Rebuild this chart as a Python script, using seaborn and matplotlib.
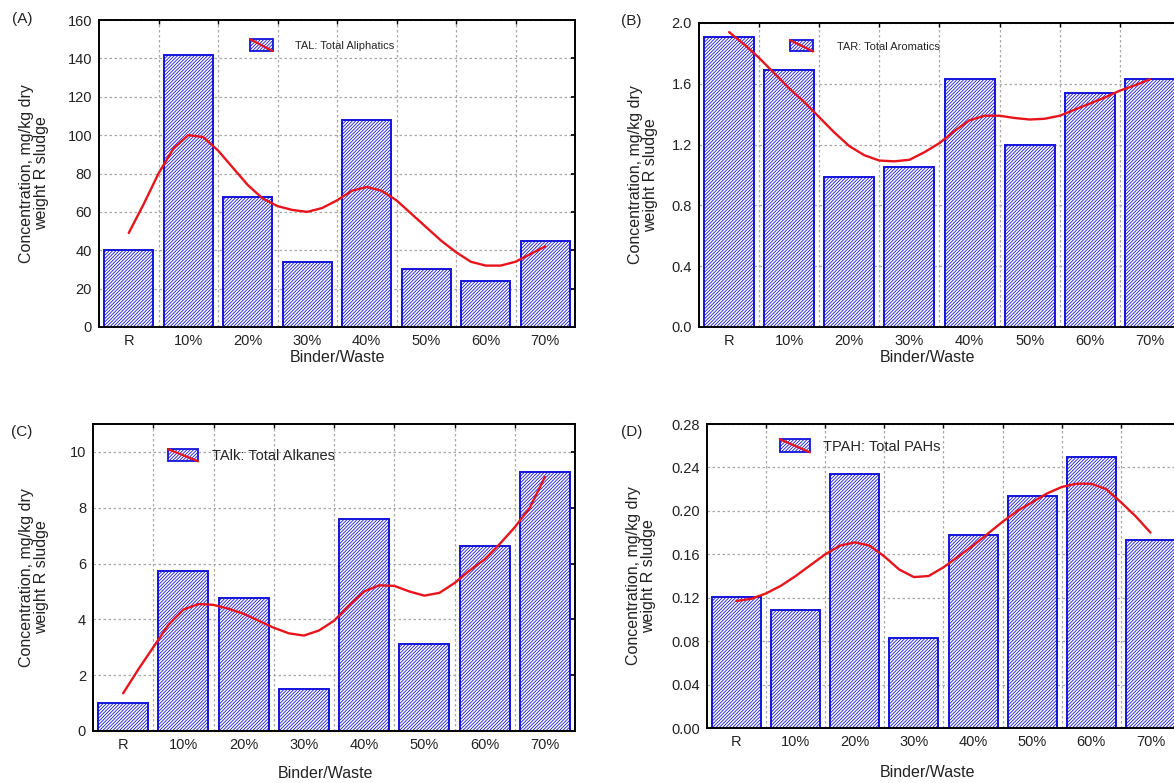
import numpy as np
import pandas as pd
import seaborn as sns
import matplotlib.pyplot as plt
from matplotlib.patches import Rectangle
from matplotlib.lines import Line2D
from matplotlib.legend_handler import HandlerBase
from matplotlib.ticker import FixedLocator, FormatStrFormatter

# categorias (razao ligante/residuo)
labels = ['R', '10%', '20%', '30%', '40%', '50%', '60%', '70%']

# alturas das barras
tal = [40, 142, 68, 34, 108, 30, 24, 45]
tar = [1.91, 1.69, 0.99, 1.05, 1.63, 1.20, 1.54, 1.63]
talk = [1.02, 5.72, 4.75, 1.52, 7.60, 3.11, 6.62, 9.27]
tpah = [0.121, 0.109, 0.234, 0.083, 0.178, 0.214, 0.250, 0.173]

# curva suavizada lida a cada 1/4 de categoria
curve_pos = np.linspace(0, 7, 29)
tal_curve = [49, 64, 80, 93, 100, 99, 92, 83, 74, 67, 63, 61, 60, 62, 66, 71,
             73, 71, 66, 59, 52, 45, 39, 34, 32, 32, 34, 38, 42]
tar_curve = [1.94, 1.86, 1.77, 1.67, 1.57, 1.48, 1.38, 1.28, 1.19, 1.13, 1.095,
             1.09, 1.10, 1.15, 1.21, 1.29, 1.36, 1.39, 1.39, 1.375, 1.365, 1.37,
             1.39, 1.43, 1.47, 1.51, 1.555, 1.59, 1.63]
talk_curve = [1.35, 2.2, 3.0, 3.8, 4.35, 4.55, 4.52, 4.38, 4.2, 3.95, 3.7, 3.5,
              3.42, 3.6, 3.95, 4.5, 5.0, 5.22, 5.2, 5.0, 4.85, 4.95, 5.3, 5.75,
              6.15, 6.7, 7.3, 8.0, 9.1]
tpah_curve = [0.117, 0.119, 0.124, 0.131, 0.140, 0.150, 0.160, 0.168, 0.171,
              0.168, 0.158, 0.146, 0.139, 0.140, 0.148, 0.158, 0.168, 0.179,
              0.190, 0.200, 0.208, 0.216, 0.222, 0.225, 0.225, 0.220, 0.208,
              0.195, 0.180]

BLUE = '#1414dc'
RED = '#e8141c'
HATCH = '/' * 10
W, H = 1174, 783

sns.set_theme(style='white')
plt.rcParams['font.family'] = ['Liberation Sans', 'DejaVu Sans']
plt.rcParams['hatch.linewidth'] = 0.6


class BarLineHandler(HandlerBase):
    def create_artists(self, legend, orig_handle, xdescent, ydescent,
                       width, height, fontsize, trans):
        rect = Rectangle((-xdescent, -ydescent), width, height, facecolor='white',
                         edgecolor=BLUE, hatch=HATCH, lw=1.3, transform=trans)
        line = Line2D([-xdescent, -xdescent + width], [-ydescent + height, -ydescent],
                      color=RED, lw=1.6, transform=trans)
        return [rect, line]


fig = plt.figure(figsize=(W / 100, H / 100), dpi=100)


def box(l, r, t, b):
    return [l / W, 1 - b / H, (r - l) / W, (b - t) / H]


panels = [
    dict(box=box(99, 575, 20, 327), vals=tal, curve=tal_curve, top=160,
         yt=np.arange(0, 161, 20), fmt='%d', letter='(A)', lp=(22, 19),
         name='TAL: Total Aliphatics', lfs=8, leg=(0.318, 0.918), hl=2.0, hh=1.25, tp=2.0,
         ylc=-0.137, xlc=(0.502, -0.098)),
    dict(box=box(699, 1180, 23, 327), vals=tar, curve=tar_curve, top=2.0,
         yt=np.arange(0, 2.01, 0.4), fmt='%.1f', letter='(B)', lp=(631, 21),
         name='TAR: Total Aromatics', lfs=8, leg=(0.189, 0.925), hl=2.1, hh=1.2, tp=2.1,
         ylc=-0.116, xlc=(0.476, -0.099)),
    dict(box=box(93, 575, 424, 731), vals=talk, curve=talk_curve, top=11,
         yt=np.arange(0, 11, 2), fmt='%d', letter='(C)', lp=(22, 432),
         name='TAlk: Total Alkanes', lfs=10.5, leg=(0.156, 0.895), hl=2.05, hh=0.9, tp=0.95,
         ylc=-0.122, xlc=(0.483, -0.137)),
    dict(box=box(707, 1180, 424, 728), vals=tpah, curve=tpah_curve, top=0.28,
         yt=np.arange(0, 0.281, 0.04), fmt='%.2f', letter='(D)', lp=(632, 432),
         name='TPAH: Total PAHs', lfs=10.5, leg=(0.154, 0.926), hl=2.05, hh=1.0, tp=0.9,
         ylc=-0.14, xlc=(0.467, -0.148)),
]

for p in panels:
    ax = fig.add_axes(p['box'])
    df = pd.DataFrame({'cat': labels, 'val': p['vals']})
    sns.barplot(data=df, x='cat', y='val', ax=ax, color='white', saturation=1,
                edgecolor=BLUE, linewidth=1.4, hatch=HATCH, width=0.83, zorder=2)
    cdf = pd.DataFrame({'x': curve_pos, 'y': p['curve']})
    sns.lineplot(data=cdf, x='x', y='y', ax=ax, color=RED, lw=1.7, zorder=3)

    ax.set_xlim(-0.5, 7.5)
    ax.set_ylim(0, p['top'])
    ax.set_yticks(p['yt'])
    ax.yaxis.set_major_formatter(FormatStrFormatter(p['fmt']))
    ax.xaxis.set_minor_locator(FixedLocator(np.arange(0.5, 7, 1)))
    ax.grid(True, axis='y', which='major', color='#a8a8a8', ls=(0, (2, 2)), lw=0.9, zorder=0)
    ax.grid(True, axis='x', which='minor', color='#a8a8a8', ls=(0, (2, 2)), lw=0.9, zorder=0)
    ax.set_axisbelow(True)
    ax.tick_params(axis='x', which='major', length=0, pad=5, labelsize=10.5, labelcolor='#222222')
    ax.tick_params(axis='x', which='minor', length=3, direction='in', top=True, color='black')
    ax.tick_params(axis='y', which='major', length=3, direction='in', right=True,
                   pad=5, labelsize=10.5, labelcolor='#222222', color='black')
    for s in ax.spines.values():
        s.set_color('black')
        s.set_linewidth(1.4)

    ax.set_xlabel('Binder/Waste', fontsize=11.5, color='#222222')
    ax.xaxis.set_label_coords(*p['xlc'])
    ax.xaxis.label.set_verticalalignment('center')
    ax.set_ylabel('Concentration, mg/kg dry\nweight R sludge', fontsize=11.5,
                  color='#222222', linespacing=1.0)
    ax.yaxis.set_label_coords(p['ylc'], 0.5)
    ax.yaxis.label.set_verticalalignment('center')

    h = Rectangle((0, 0), 1, 1)
    ax.legend([h], [p['name']], handler_map={h: BarLineHandler()},
              loc='center left', bbox_to_anchor=p['leg'], frameon=False,
              fontsize=p['lfs'], handlelength=p['hl'], handleheight=p['hh'],
              handletextpad=p['tp'], borderpad=0, borderaxespad=0)

    fig.text(p['lp'][0] / W, 1 - p['lp'][1] / H, p['letter'], fontsize=11,
             ha='center', va='center', color='#222222')

fig.savefig('out.png', dpi=100)
